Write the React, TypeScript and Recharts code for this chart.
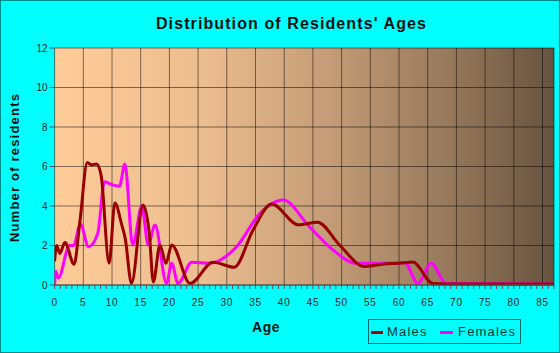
import React from "react";
import { LineChart, Line, XAxis, YAxis, CartesianGrid } from "recharts";

// curve points (age, residents)
const maleAges = [0, 0.35, 0.9, 1.8, 3.4, 4.4, 5.7, 6.4, 7.3, 8.1, 9.5, 10.5, 11.7, 12.3, 13.4, 15.4, 16.5, 17.2, 18.35, 19.4, 20.4, 23.6, 27.6, 31.3, 34.6, 37.8, 42.5, 45.8, 49.7, 54.0, 57.8, 60.0, 62.4, 65.9, 70, 87];
const maleCounts = [1.2, 2.0, 1.6, 2.15, 1.05, 3.2, 6.2, 6.08, 6.13, 5.55, 1.1, 4.15, 3.04, 2.36, 0.08, 4.05, 2.6, 0.15, 2.03, 1.1, 2.03, 0.08, 1.15, 0.9, 2.8, 4.1, 3.05, 3.18, 2.0, 0.94, 1.08, 1.1, 1.16, 0.08, 0.05, 0.05];

const femaleAges = [0, 0.2, 0.65, 2.6, 3.3, 4.5, 5.9, 7.5, 8.7, 10.0, 11.3, 12.25, 13.6, 15.2, 16.3, 17.5, 19.5, 20.4, 21.5, 23.9, 27.0, 31.7, 35.7, 39.8, 44.4, 48.5, 52.6, 57.8, 61.0, 63.3, 65.6, 68.2, 87];
const femaleCounts = [0, 0.7, 0.35, 2.0, 2.0, 3.09, 1.94, 2.6, 5.23, 5.08, 5.0, 6.13, 2.03, 4.0, 2.03, 3.04, 0.08, 1.1, 0.08, 1.15, 1.1, 1.94, 3.6, 4.3, 2.95, 1.77, 1.1, 1.1, 1.13, 0.08, 1.1, 0.08, 0.05];

const ageLabels = [0, 5, 10, 15, 20, 25, 30, 35, 40, 45, 50, 55, 60, 65, 70, 75, 80, 85];
const yearTicks = Array.from({ length: 88 }, (_, i) => i);
const yTicks = [0, 2, 4, 6, 8, 10, 12];

const maleData = maleAges.map((age, i) => ({ age, count: maleCounts[i] }));
const femaleData = femaleAges.map((age, i) => ({ age, count: femaleCounts[i] }));

const font = '"Liberation Sans", Arial, sans-serif';
const MALE = "#990000";
const FEMALE = "#ff00ff";

export default function App() {
  return (
    <div style={{ position: "absolute", left: 0, top: 0, width: 560, height: 353, background: "#00ffff", fontFamily: font, overflow: "hidden" }}>
      <LineChart width={560} height={353} margin={{ top: 48, right: 6, bottom: 0, left: 0 }}>
        <defs>
          <linearGradient id="plotBg" x1="0" y1="0" x2="1" y2="0">
            <stop offset="0%" stopColor="#ffcc99" />
            <stop offset="30%" stopColor="#ecbd8f" />
            <stop offset="55%" stopColor="#c49c77" />
            <stop offset="80%" stopColor="#95775a" />
            <stop offset="100%" stopColor="#66533f" />
          </linearGradient>
        </defs>
        <CartesianGrid xAxisId="major" fill="url(#plotBg)" fillOpacity={1} stroke="#000" strokeOpacity={0.5} />
        <XAxis xAxisId="major" type="number" dataKey="age" domain={[0, 87]} ticks={ageLabels} allowDataOverflow hide />
        <XAxis
          type="number"
          dataKey="age"
          domain={[0, 87]}
          ticks={yearTicks}
          interval={0}
          allowDataOverflow
          tickFormatter={(v: number) => (v % 5 === 0 ? String(v) : "")}
          height={68}
          tickSize={4}
          tickMargin={10}
          stroke="#555"
          tick={{ fontSize: 10, fill: "#222", fontFamily: font, letterSpacing: 0.8 }}
        />
        <YAxis
          type="number"
          domain={[0, 12]}
          ticks={yTicks}
          width={54.6}
          tickSize={5}
          tickMargin={2}
          axisLine={false}
          stroke="#555"
          tick={{ fontSize: 10, fill: "#222", fontFamily: font }}
        />
        <Line data={femaleData} dataKey="count" type="monotone" stroke={FEMALE} strokeWidth={3} dot={false} isAnimationActive={false} />
        <Line data={maleData} dataKey="count" type="monotone" stroke={MALE} strokeWidth={3} dot={false} isAnimationActive={false} />
      </LineChart>

      <div style={{ position: "absolute", left: 151, top: 16.3, width: 281, textAlign: "center", fontSize: 16, lineHeight: "16px", fontWeight: "bold", letterSpacing: 1.1, color: "#111", whiteSpace: "nowrap" }}>
        Distribution of Residents' Ages
      </div>
      <div style={{ position: "absolute", left: -86, top: 160.5, width: 200, height: 13, textAlign: "center", fontSize: 13, lineHeight: "13px", fontWeight: "bold", letterSpacing: 1.2, color: "#111", transform: "rotate(-90deg)", whiteSpace: "nowrap" }}>
        Number of residents
      </div>
      <div style={{ position: "absolute", left: 216, top: 320, width: 100, textAlign: "center", fontSize: 14, lineHeight: "14px", fontWeight: "bold", letterSpacing: 0.5, color: "#111" }}>
        Age
      </div>

      <div style={{ position: "absolute", left: 368, top: 319, width: 153, height: 25, boxSizing: "border-box", border: "1px solid #0a6a6a" }}>
        <div style={{ position: "absolute", left: 2, top: 10.5, width: 12, height: 3, background: MALE }} />
        <div style={{ position: "absolute", left: 18, top: 5, fontSize: 13, lineHeight: "13px", letterSpacing: 1.2, color: "#0b3535" }}>Males</div>
        <div style={{ position: "absolute", left: 71, top: 10.5, width: 13, height: 3, background: FEMALE }} />
        <div style={{ position: "absolute", left: 89, top: 5, fontSize: 13, lineHeight: "13px", letterSpacing: 1.2, color: "#0b3535" }}>Females</div>
      </div>

      <div style={{ position: "absolute", left: 0, top: 0, width: 560, height: 353, boxSizing: "border-box", border: "1px solid #008b8b", pointerEvents: "none" }} />
    </div>
  );
}
